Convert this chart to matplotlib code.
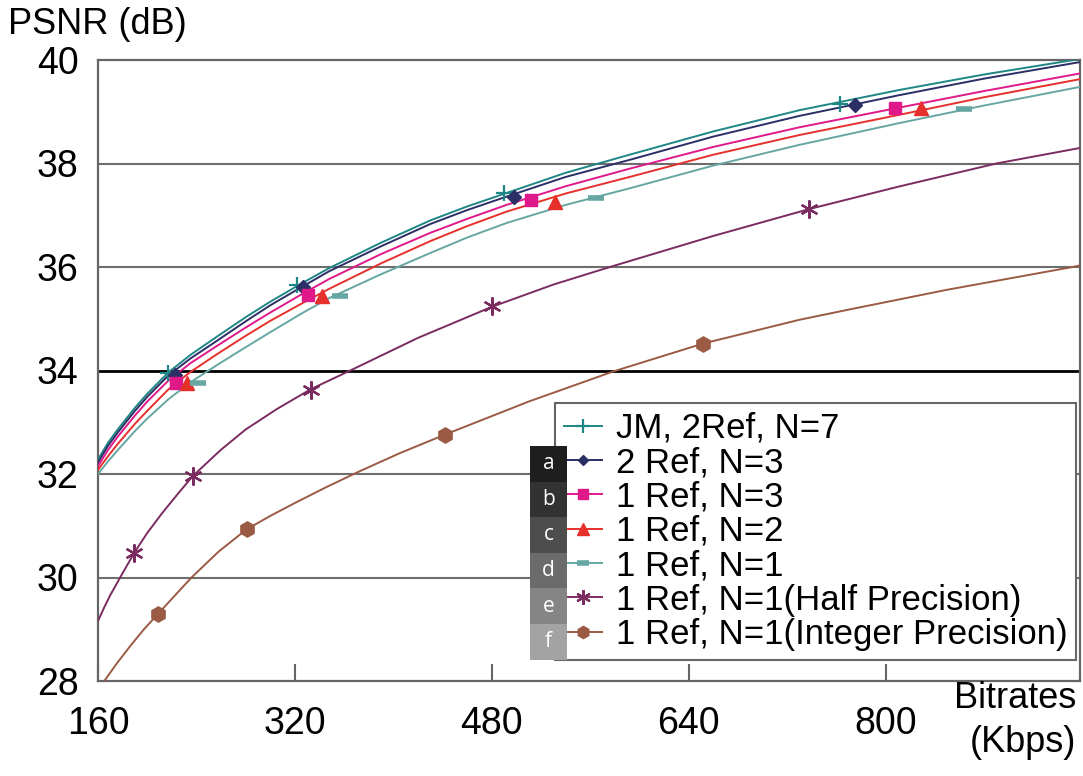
import matplotlib
matplotlib.use('Agg')
import matplotlib.pyplot as plt
from matplotlib.lines import Line2D
from matplotlib.patches import Rectangle

plt.rcParams['font.family'] = ['Liberation Sans', 'DejaVu Sans']

# curves (kbps, dB)
top_x = [160, 168, 176, 190, 200, 217, 235, 257, 280, 300, 326, 348, 390,
         430, 460, 492, 540, 592, 660, 730, 811, 880, 958]
jm_y = [32.28, 32.6, 32.86, 33.28, 33.55, 33.96, 34.3, 34.66, 35.03, 35.33, 35.69, 35.98,
        36.47, 36.9, 37.17, 37.43, 37.82, 38.17, 38.62, 39.03, 39.42, 39.72, 40.02]
ref2n3_y = [32.22, 32.54, 32.8, 33.22, 33.49, 33.9, 34.23, 34.58, 34.95, 35.26, 35.62, 35.92,
            36.4, 36.83, 37.1, 37.36, 37.74, 38.07, 38.52, 38.92, 39.32, 39.64, 39.96]
ref1n3_y = [32.15, 32.46, 32.72, 33.13, 33.4, 33.8, 34.14, 34.48, 34.83, 35.12, 35.48, 35.77,
            36.25, 36.66, 36.93, 37.2, 37.56, 37.9, 38.32, 38.7, 39.08, 39.4, 39.74]
ref1n2_y = [32.08, 32.34, 32.58, 32.97, 33.22, 33.63, 33.97, 34.32, 34.67, 34.96, 35.3, 35.58,
            36.07, 36.5, 36.79, 37.07, 37.42, 37.74, 38.17, 38.55, 38.94, 39.28, 39.63]
ref1n1_y = [32.0, 32.24, 32.46, 32.83, 33.07, 33.44, 33.77, 34.11, 34.45, 34.74, 35.11, 35.4,
            35.86, 36.27, 36.57, 36.85, 37.2, 37.52, 37.96, 38.36, 38.78, 39.12, 39.48]
half_x = [160, 165, 170, 178, 189.5, 200, 212, 225, 237, 260, 280, 305, 333, 365, 420,
          480, 530, 576, 660, 738, 810, 890, 958]
half_y = [29.16, 29.42, 29.66, 30.0, 30.48, 30.86, 31.24, 31.62, 31.96, 32.47, 32.86, 33.25,
          33.64, 34.0, 34.63, 35.23, 35.66, 36.0, 36.6, 37.12, 37.55, 38.0, 38.3]
int_x = [160, 166, 175, 186, 197, 208.5, 222, 236, 258, 280.7, 300, 320, 345, 371.4, 405,
         441.8, 510, 578.5, 651.6, 730, 770.7, 850, 952, 958]
int_y = [27.8, 28.03, 28.33, 28.67, 28.99, 29.29, 29.64, 30.0, 30.5, 30.93, 31.19, 31.44,
         31.74, 32.04, 32.4, 32.76, 33.4, 33.98, 34.52, 34.98, 35.18, 35.56, 36.0, 36.03]

# marker positions
jm_mx, jm_my = [217, 322, 490, 763], [33.96, 35.65, 37.43, 39.15]
ref2n3_mx, ref2n3_my = [222.5, 326.5, 498, 775], [33.92, 35.62, 37.36, 39.13]
ref1n3_mx, ref1n3_my = [223, 331, 512, 808], [33.76, 35.46, 37.3, 39.07]
ref1n2_mx, ref1n2_my = [232, 342, 531, 829], [33.76, 35.44, 37.25, 39.07]
ref1n1_mx, ref1n1_my = [241, 357, 565, 864], [33.76, 35.43, 37.33, 39.05]
half_mx, half_my = [189.5, 237, 333, 480.5, 738], [30.48, 31.96, 33.62, 35.25, 37.12]
int_mx, int_my = [208.5, 280.7, 441.8, 651.6], [29.29, 30.93, 32.76, 34.52]

labels = ['JM, 2Ref, N=7', '2 Ref, N=3', '1 Ref, N=3', '1 Ref, N=2',
          '1 Ref, N=1', '1 Ref, N=1(Half Precision)', '1 Ref, N=1(Integer Precision)']
x_ticks = [160, 320, 480, 640, 800]
y_ticks = [28, 30, 32, 34, 36, 38, 40]
letters = ['a', 'b', 'c', 'd', 'e', 'f']

series = [
    (top_x, jm_y, jm_mx, jm_my, '#1f8686', '+', 12, 1.6),
    (top_x, ref2n3_y, ref2n3_mx, ref2n3_my, '#2c2f66', 'D', 7, 1),
    (top_x, ref1n3_y, ref1n3_mx, ref1n3_my, '#e0198a', 's', 9, 1),
    (top_x, ref1n2_y, ref1n2_mx, ref1n2_my, '#e5302c', '^', 10, 1),
    (top_x, ref1n1_y, ref1n1_mx, ref1n1_my, '#66a6a3', '_', 11, 4),
    (half_x, half_y, half_mx, half_my, '#7a2c60', (6, 2, 0), 13, 1.6),
    (int_x, int_y, int_mx, int_my, '#9a5a44', 'h', 11, 1),
]

fig = plt.figure(figsize=(10.83, 7.76), dpi=100)
ax = fig.add_axes([98 / 1083, 1 - 681 / 776, 982 / 1083, 621 / 776])

for v in [30, 32, 36, 38]:
    ax.axhline(v, color='#6e6e6e', lw=1.5, zorder=1)
ax.axhline(34, color='black', lw=2, zorder=1)

handles = []
for (xs, ys, mx, my, col, mk, ms, mew), lab in zip(series, labels):
    ax.plot(xs, ys, color=col, lw=1.4, zorder=3)
    ax.plot(mx, my, ls='none', marker=mk, ms=ms, color=col,
            markeredgecolor=col, markeredgewidth=mew, zorder=4)
    handles.append(Line2D([], [], color=col, lw=1.4, marker=mk,
                          ms=ms * 0.8, markeredgecolor=col,
                          markeredgewidth=mew, label=lab))

ax.set_xlim(160, 958)
ax.set_ylim(28, 40)
ax.set_xticks(x_ticks)
ax.set_xticklabels([str(t) for t in x_ticks])
ax.set_yticks(y_ticks)
ax.set_yticklabels([str(t) for t in y_ticks])
ax.tick_params(axis='x', direction='in', length=12, width=1.5,
               color='#666666', pad=18, labelsize=27)
ax.tick_params(axis='y', length=0, pad=14, labelsize=27)
for sp in ax.spines.values():
    sp.set_color('#666666')
    sp.set_linewidth(1.6)

leg = ax.legend(handles=handles, loc='upper left',
                bbox_to_anchor=((555 - 98) / 982, (681 - 403) / 621),
                fontsize=25, frameon=True, fancybox=False, framealpha=1,
                edgecolor='#666666', handlelength=1.1, handletextpad=0.4,
                labelspacing=0.04, borderpad=0.25, borderaxespad=0)
leg.get_frame().set_linewidth(1.5)

fig.text(8 / 1083, 1 - 25 / 776, 'PSNR (dB)', ha='left', va='center', size=26)
fig.text(1076 / 1083, 1 - 698 / 776, 'Bitrates', ha='right', va='center', size=26)
fig.text(1076 / 1083, 1 - 742 / 776, '(Kbps)', ha='right', va='center', size=26)

# grey letter tags beside the legend
box_cols = ['#1e1e1e', '#323232', '#4d4d4d', '#6b6b6b', '#858585', '#a3a3a3']
for i, (let, bc) in enumerate(zip(letters, box_cols)):
    top = 446 + 35.6 * i
    fig.add_artist(Rectangle((530 / 1083, 1 - (top + 35.6) / 776), 37 / 1083, 35.6 / 776,
                             transform=fig.transFigure, facecolor=bc,
                             edgecolor='none', zorder=10))
    fig.text(548.5 / 1083, 1 - (top + 17.8) / 776, let, color='white',
             ha='center', va='center', size=15, family=['Open Sans', 'DejaVu Sans'],
             zorder=11)

fig.savefig('out.png', dpi=100)
